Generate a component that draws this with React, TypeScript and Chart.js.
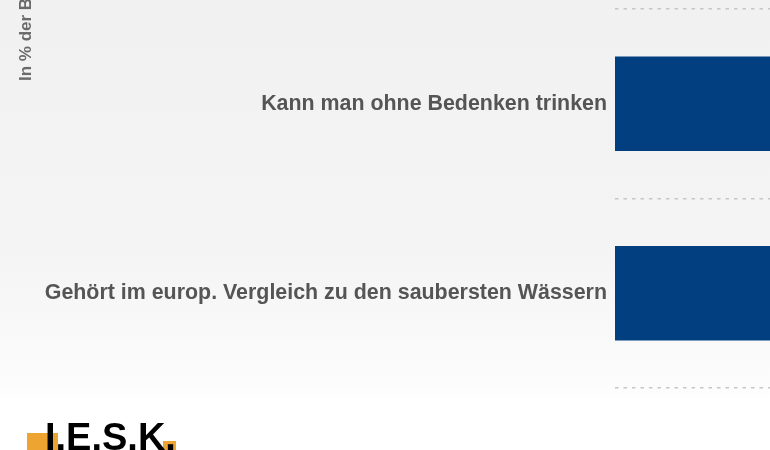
import React, { useEffect, useRef } from "react";
import { Chart, registerables } from "chart.js";

Chart.register(...registerables);

const categories: string[] = [
  "Kann man ohne Bedenken trinken",
  "Gehört im europ. Vergleich zu den saubersten Wässern",
];
const shares: number[] = [86, 72];
const axisTitle = "In % der Befragten";
const logoText = "I.E.S.K.";

export default function App() {
  const canvasRef = useRef<HTMLCanvasElement | null>(null);

  useEffect(() => {
    const canvas = canvasRef.current;
    if (!canvas) return;
    const chart = new Chart(canvas, {
      type: "bar",
      data: {
        labels: categories,
        datasets: [
          {
            data: shares,
            backgroundColor: "#023f80",
            borderWidth: 0,
            barThickness: 94,
          },
        ],
      },
      options: {
        indexAxis: "y",
        animation: false,
        responsive: false,
        events: [],
        layout: { padding: { top: 9, bottom: 62, left: 0, right: 0 } },
        plugins: {
          legend: { display: false },
          tooltip: { enabled: false },
        },
        scales: {
          x: {
            display: false,
            min: 0,
            max: 100,
          },
          y: {
            position: "left",
            afterFit: (scale: any) => {
              scale.width = 615;
              scale.paddingTop = 0;
              scale.paddingBottom = 0;
            },
            grid: {
              display: true,
              offset: true,
              drawTicks: false,
              tickLength: 0,
              color: "#c6c6c6",
              lineWidth: 1.5,
            },
            border: { display: false, dash: [3.5, 5] },
            ticks: {
              padding: 8,
              color: "#555555",
              font: {
                family: "'Liberation Sans', Arial, sans-serif",
                size: 21.4,
                weight: "bold",
              },
            },
          },
        },
      },
    });
    return () => chart.destroy();
  }, []);

  return (
    <div
      style={{
        position: "absolute",
        left: 0,
        top: 0,
        width: 770,
        height: 450,
        overflow: "hidden",
        background:
          "linear-gradient(to bottom, #f1f1f1 0px, #f4f4f4 250px, #fcfcfc 385px, #ffffff 400px)",
        fontFamily: "'Liberation Sans', Arial, sans-serif",
      }}
    >
      <canvas
        ref={canvasRef}
        width={1200}
        height={450}
        style={{ position: "absolute", left: 0, top: 0, width: 1200, height: 450 }}
      />
      <div
        style={{
          position: "absolute",
          left: 17,
          top: 81,
          transformOrigin: "0 0",
          transform: "rotate(-90deg)",
          whiteSpace: "nowrap",
          fontSize: 17,
          lineHeight: "17px",
          fontWeight: "bold",
          color: "#6a6a6a",
        }}
      >
        {axisTitle}
      </div>
      <div
        style={{
          position: "absolute",
          left: 27,
          top: 433,
          width: 31,
          height: 20,
          background: "#eea431",
        }}
      />
      <div
        style={{
          position: "absolute",
          left: 163,
          top: 441,
          width: 13,
          height: 12,
          background: "#eea431",
        }}
      />
      <div
        style={{
          position: "absolute",
          left: 45,
          top: 418,
          fontSize: 38,
          lineHeight: "38px",
          fontWeight: "bold",
          color: "#000000",
          whiteSpace: "nowrap",
        }}
      >
        {logoText}
      </div>
    </div>
  );
}
